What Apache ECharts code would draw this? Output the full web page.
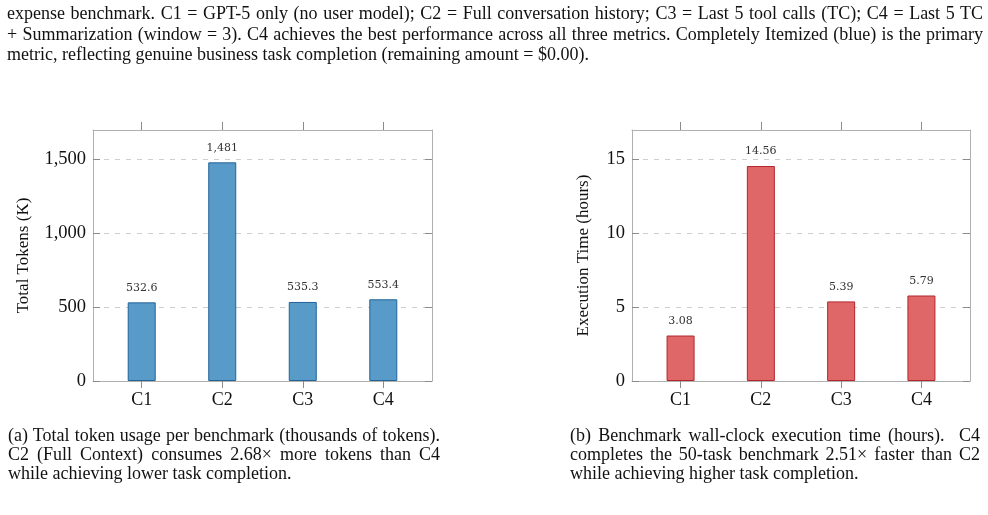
<!DOCTYPE html>
<html>
<head>
<meta charset="utf-8">
<script src="https://cdn.jsdelivr.net/npm/echarts@6/dist/echarts.min.js"></script>
<style>
  html, body { margin: 0; padding: 0; background: #fff; }
  #chart { position: absolute; left: 0; top: 0; width: 988px; height: 515px; }
  .txt { position: absolute; font-family: 'Liberation Serif', 'Times New Roman', serif; color: #111; }
  .txt div { text-align: justify; text-align-last: justify; white-space: nowrap; }
  .txt div.last { text-align: left; text-align-last: left; }
  #para { left: 7px; top: 3px; width: 976px; font-size: 18px; line-height: 20.5px; }
  #capA { left: 8px; top: 426px; width: 432px; font-size: 18px; line-height: 18.8px; }
  #capB { left: 570px; top: 426px; width: 410px; font-size: 18px; line-height: 18.8px; }
</style>
</head>
<body>
<div id="chart"></div>
<div class="txt" id="para">
  <div>expense benchmark. C1 = GPT-5 only (no user model); C2 = Full conversation history; C3 = Last 5 tool calls (TC); C4 = Last 5 TC</div>
  <div>+ Summarization (window = 3). C4 achieves the best performance across all three metrics. Completely Itemized (blue) is the primary</div>
  <div class="last">metric, reflecting genuine business task completion (remaining amount = $0.00).</div>
</div>
<div class="txt" id="capA">
  <div>(a) Total token usage per benchmark (thousands of tokens).</div>
  <div>C2 (Full Context) consumes 2.68× more tokens than C4</div>
  <div class="last">while achieving lower task completion.</div>
</div>
<div class="txt" id="capB">
  <div>(b) Benchmark wall-clock execution time (hours).&nbsp; C4</div>
  <div>completes the 50-task benchmark 2.51× faster than C2</div>
  <div class="last">while achieving higher task completion.</div>
</div>
<script>
// 数据
var categories = ['C1', 'C2', 'C3', 'C4'];
var tokens = [532.6, 1481, 535.3, 553.4];
var hours = [3.08, 14.56, 5.39, 5.79];
var tokenTicks = [0, 500, 1000, 1500];
var hourTicks = [0, 5, 10, 15];

var catPos = categories.map(function (c, i) { return i + 1; });
var serif = "'Liberation Serif', 'Times New Roman', serif";
var frameColor = '#b0b0b0';
var tickColor = '#8c8c8c';

function pairs(vals) {
    return vals.map(function (v, i) { return [catPos[i], v]; });
}

function xAxes(gridIndex) {
    return [
        {
            type: 'value', gridIndex: gridIndex, position: 'bottom',
            min: 0.395, max: 4.605,
            axisLine: { show: true, onZero: false, lineStyle: { color: frameColor } },
            axisTick: { show: true, inside: false, length: 7, customValues: catPos, lineStyle: { color: tickColor } },
            axisLabel: {
                customValues: catPos, margin: 10,
                fontFamily: serif, fontSize: 18, color: '#111',
                formatter: function (v) { return categories[Math.round(v) - 1]; }
            },
            splitLine: { show: false }
        },
        {
            type: 'value', gridIndex: gridIndex, position: 'top', z: 3,
            min: 0.395, max: 4.605,
            axisLine: { show: true, onZero: false, lineStyle: { color: frameColor } },
            axisTick: { show: true, inside: false, length: 8, customValues: catPos, lineStyle: { color: tickColor } },
            axisLabel: { show: false },
            splitLine: { show: false }
        }
    ];
}

function yAxes(gridIndex, max, interval, ticks, name, nameGap, fmt) {
    return [
        {
            type: 'value', gridIndex: gridIndex, position: 'left',
            min: 0, max: max, interval: interval,
            name: name, nameLocation: 'middle', nameRotate: 90, nameGap: nameGap,
            nameTextStyle: { fontFamily: serif, fontSize: 17, color: '#111' },
            axisLine: { show: true, onZero: false, lineStyle: { color: frameColor } },
            axisTick: { show: true, inside: true, length: 7, customValues: ticks, lineStyle: { color: tickColor } },
            axisLabel: {
                customValues: ticks, margin: 7,
                fontFamily: serif, fontSize: 18.5, color: '#111',
                formatter: fmt
            },
            splitLine: { show: true, lineStyle: { color: '#cfcfcf', type: [5, 6], width: 1 } }
        },
        {
            type: 'value', gridIndex: gridIndex, position: 'right', z: 3,
            min: 0, max: max, interval: interval,
            axisLine: { show: true, onZero: false, lineStyle: { color: frameColor } },
            axisTick: { show: true, inside: true, length: 7, customValues: ticks, lineStyle: { color: tickColor } },
            axisLabel: { show: false },
            splitLine: { show: false }
        }
    ];
}

function barSeries(xIdx, yIdx, vals, fill, border, fmt) {
    return {
        type: 'bar', xAxisIndex: xIdx, yAxisIndex: yIdx,
        data: pairs(vals),
        barWidth: 28,
        itemStyle: { color: fill, borderColor: border, borderWidth: 1 },
        label: {
            show: true, position: 'top', distance: 9,
            fontFamily: "'DejaVu Serif', serif", fontSize: 11, color: '#333',
            formatter: function (p) { return fmt(p.value[1]); }
        },
        silent: true
    };
}

var myChart = echarts.init(document.getElementById('chart'), null, { renderer: 'canvas' });

var option = {
    animation: false,
    backgroundColor: '#fff',
    grid: [
        { left: 93, top: 130, width: 339, height: 251, show: false },
        { left: 632, top: 130, width: 338, height: 251, show: false }
    ],
    xAxis: xAxes(0).concat(xAxes(1)),
    yAxis: yAxes(0, 1700, 500, tokenTicks, 'Total Tokens (K)', 61, function (v) {
        return v.toLocaleString('en-US');
    }).concat(yAxes(1, 17, 5, hourTicks, 'Execution Time (hours)', 40, function (v) {
        return String(v);
    })),
    series: [
        barSeries(0, 0, tokens, '#589bc8', '#22639a', function (v) {
            return v >= 1000 ? v.toLocaleString('en-US') : v.toFixed(1);
        }),
        barSeries(2, 2, hours, '#e06767', '#b3262c', function (v) {
            return v.toFixed(2);
        })
    ]
};

myChart.setOption(option);
</script>
</body>
</html>
